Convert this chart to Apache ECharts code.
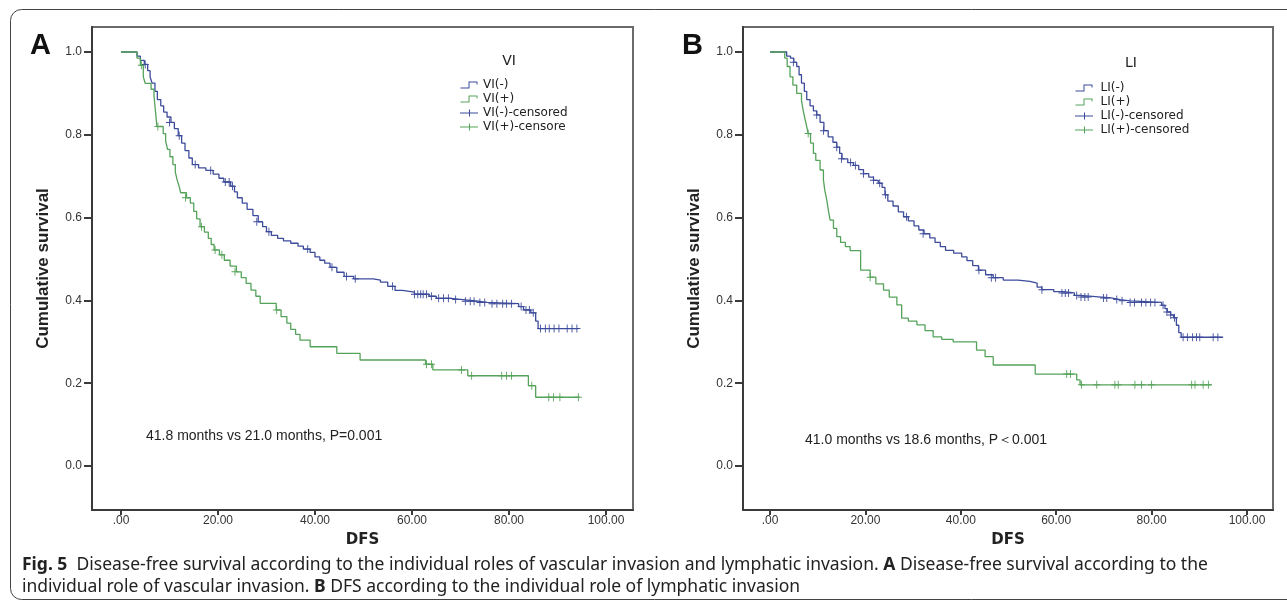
<!DOCTYPE html>
<html><head><meta charset="utf-8">
<script src="https://cdn.jsdelivr.net/npm/echarts@6/dist/echarts.min.js"></script>
<style>html,body{margin:0;padding:0;background:#fff}#c{width:1287px;height:602px}</style>
</head><body><div id="c"></div>
<script>
// ---------- data ----------
const xTicks = [0, 20, 40, 60, 80, 100];
const xTickLabels = ['.00', '20.00', '40.00', '60.00', '80.00', '100.00'];
const yTicks = [0, 0.2, 0.4, 0.6, 0.8, 1.0];
const yTickLabels = ['0.0', '0.2', '0.4', '0.6', '0.8', '1.0'];

// Panel A: vascular invasion (KM steps: [time, survival after event])
const viNegSteps = [[0,1.0],[3.3,0.99],[4.0,0.98],[4.8,0.97],[5.5,0.955],[6.0,0.94],[6.4,0.925],[7.0,0.905],[7.5,0.885],[8.2,0.87],[8.8,0.855],[9.5,0.843],[10.3,0.83],[11.0,0.815],[11.8,0.798],[12.5,0.78],[13.2,0.762],[14.0,0.744],[14.7,0.728],[16.0,0.72],[17.5,0.714],[19.0,0.705],[20.2,0.695],[21.2,0.686],[22.6,0.676],[23.4,0.662],[24.0,0.648],[25.0,0.635],[26.0,0.62],[27.2,0.605],[28.3,0.59],[29.2,0.578],[30.0,0.566],[31.0,0.557],[32.3,0.55],[33.5,0.544],[35.0,0.538],[36.5,0.531],[37.6,0.524],[39.0,0.516],[40.0,0.505],[41.0,0.497],[42.0,0.49],[43.1,0.48],[44.5,0.468],[46.0,0.458],[48.0,0.452],[52.0,0.449],[53.5,0.444],[55.0,0.434],[56.5,0.424],[58.0,0.42],[60.5,0.415],[63.5,0.41],[65.0,0.405],[68.0,0.402],[70.5,0.398],[73.5,0.395],[75.5,0.392],[82.0,0.385],[83.0,0.377],[84.5,0.37],[85.5,0.35],[86.0,0.332],[94.3,0.332]];
const viPosSteps = [[0,1.0],[3.3,0.985],[4.0,0.968],[4.6,0.94],[5.0,0.924],[6.2,0.91],[6.8,0.895],[7.0,0.87],[7.2,0.845],[7.4,0.82],[8.7,0.803],[9.2,0.785],[9.6,0.765],[10.1,0.747],[10.7,0.728],[11.2,0.71],[11.6,0.69],[12.0,0.675],[12.3,0.66],[13.5,0.648],[14.3,0.635],[15.0,0.615],[15.6,0.597],[16.3,0.578],[17.2,0.565],[18.0,0.55],[18.6,0.535],[19.2,0.522],[20.3,0.51],[21.3,0.497],[22.5,0.483],[23.8,0.469],[24.8,0.455],[25.8,0.441],[26.8,0.425],[27.8,0.41],[28.7,0.393],[32.0,0.377],[33.0,0.361],[34.2,0.345],[35.0,0.33],[36.0,0.318],[36.9,0.304],[39.0,0.288],[44.5,0.272],[49.3,0.256],[62.8,0.246],[64.3,0.232],[71.5,0.218],[84.0,0.194],[85.5,0.166],[94.5,0.166]];
const viNegCensored = [[5.0,0.97],[10.0,0.83],[12.0,0.798],[15.3,0.728],[18.5,0.714],[21.5,0.686],[22.3,0.686],[23.0,0.676],[28.0,0.59],[30.5,0.566],[38.5,0.524],[43.5,0.48],[46.5,0.458],[48.3,0.452],[56.0,0.434],[60.5,0.415],[61.2,0.415],[61.8,0.415],[62.3,0.415],[63.0,0.415],[64.0,0.41],[65.5,0.405],[66.5,0.405],[67.5,0.405],[69.0,0.402],[71.0,0.398],[72.0,0.398],[72.8,0.398],[74.0,0.395],[75.0,0.395],[76.5,0.392],[77.5,0.392],[78.7,0.392],[79.5,0.392],[80.5,0.392],[82.5,0.385],[83.5,0.377],[84.2,0.377],[85.0,0.37],[86.5,0.332],[87.5,0.332],[88.3,0.332],[89.3,0.332],[90.3,0.332],[92.0,0.332],[93.0,0.332],[94.0,0.332]];
const viPosCensored = [[4.2,0.968],[7.6,0.82],[13.3,0.648],[16.6,0.578],[19.4,0.522],[20.8,0.51],[23.5,0.469],[32.1,0.377],[63.0,0.246],[64.0,0.246],[70.2,0.232],[72.3,0.218],[78.5,0.218],[79.5,0.218],[80.5,0.218],[84.7,0.194],[88.2,0.166],[89.2,0.166],[90.5,0.166],[94.3,0.166]];

// Panel B: lymphatic invasion
const liNegSteps = [[0,1.0],[3.5,0.99],[4.3,0.985],[5.0,0.975],[5.6,0.965],[6.1,0.945],[6.6,0.925],[7.2,0.905],[7.7,0.885],[8.4,0.87],[9.1,0.858],[9.8,0.848],[10.5,0.83],[11.3,0.81],[12.2,0.795],[13.2,0.782],[14.0,0.77],[14.6,0.755],[15.1,0.742],[16.3,0.733],[17.5,0.726],[18.6,0.716],[19.6,0.706],[20.7,0.698],[21.7,0.69],[22.7,0.683],[23.5,0.673],[24.1,0.655],[24.7,0.64],[25.8,0.628],[26.9,0.614],[28.0,0.602],[29.0,0.592],[30.2,0.58],[31.2,0.57],[32.3,0.561],[33.5,0.551],[34.6,0.54],[35.7,0.53],[36.8,0.521],[38.5,0.514],[40.2,0.505],[41.3,0.496],[42.5,0.484],[43.7,0.473],[45.2,0.462],[46.8,0.455],[48.9,0.449],[52.0,0.446],[54.5,0.442],[56.0,0.432],[57.0,0.426],[59.5,0.421],[61.5,0.418],[63.8,0.412],[65.0,0.408],[69.5,0.406],[71.5,0.402],[73.4,0.399],[75.5,0.395],[82.1,0.388],[82.8,0.38],[83.3,0.372],[84.0,0.365],[84.6,0.358],[85.2,0.34],[85.7,0.322],[86.2,0.311],[95.0,0.311]];
const liPosSteps = [[0,1.0],[3.1,0.985],[3.6,0.965],[4.2,0.94],[4.8,0.92],[5.6,0.9],[6.6,0.884],[6.9,0.862],[7.3,0.84],[7.7,0.82],[8.0,0.803],[8.5,0.78],[9.1,0.755],[9.6,0.738],[10.5,0.715],[11.2,0.691],[11.5,0.665],[11.9,0.643],[12.2,0.62],[12.6,0.594],[13.3,0.574],[14.0,0.554],[14.8,0.54],[15.8,0.53],[16.8,0.52],[19.0,0.473],[21.0,0.456],[22.2,0.44],[23.8,0.425],[25.0,0.408],[26.6,0.389],[27.6,0.357],[29.0,0.35],[30.8,0.341],[32.5,0.327],[34.2,0.312],[36.0,0.306],[38.4,0.30],[43.3,0.28],[45.1,0.264],[46.8,0.244],[55.6,0.222],[64.3,0.208],[65.0,0.196],[92.6,0.196]];
const liNegCensored = [[4.9,0.975],[9.8,0.848],[11.2,0.81],[14.0,0.77],[15.0,0.742],[16.9,0.733],[17.9,0.726],[19.6,0.706],[21.7,0.69],[23.0,0.683],[24.2,0.655],[28.6,0.602],[32.1,0.561],[43.8,0.473],[46.4,0.455],[47.3,0.455],[57.0,0.426],[61.2,0.418],[61.9,0.418],[62.6,0.418],[64.3,0.412],[65.2,0.408],[66.0,0.408],[66.7,0.408],[69.9,0.406],[70.6,0.406],[72.7,0.402],[73.8,0.399],[75.5,0.395],[76.4,0.395],[77.9,0.395],[78.8,0.395],[79.8,0.395],[80.7,0.395],[82.4,0.388],[83.2,0.372],[84.0,0.365],[84.8,0.358],[86.6,0.311],[87.5,0.311],[88.6,0.311],[89.4,0.311],[90.1,0.311],[92.9,0.311],[93.9,0.311]];
const liPosCensored = [[8.0,0.803],[21.0,0.456],[62.2,0.222],[63.0,0.222],[65.3,0.196],[68.5,0.196],[72.3,0.196],[73.0,0.196],[76.5,0.196],[77.9,0.196],[80.0,0.196],[88.4,0.196],[89.1,0.196],[90.8,0.196],[91.9,0.196]];

const panelLetters = ['A', 'B'];
const legendTitles = ['VI', 'LI'];
const seriesNamesA = ['VI(-)', 'VI(+)', 'VI(-)-censored', 'VI(+)-censored'];
const seriesNamesB = ['LI(-)', 'LI(+)', 'LI(-)-censored', 'LI(+)-censored'];
const annotations = ['41.8 months vs 21.0 months, P=0.001', '41.0 months vs 18.6 months, P\uFF1C0.001'];
const xAxisTitle = 'DFS';
const yAxisTitle = 'Cumulative survival';
const captionLine1 = ['Fig. 5', '  Disease-free survival according to the individual roles of vascular invasion and lymphatic invasion. ', 'A', ' Disease-free survival according to the'];
const captionLine2 = ['individual role of vascular invasion. ', 'B', ' DFS according to the individual role of lymphatic invasion'];

// ---------- styling ----------
const BLUE = '#3d4b9b';
const GREEN = '#55a35a';
const stepIcon = 'path://M0,6H8V0H17V3H16V1H9V7H0Z';
const plusIcon = 'path://M0,3H18V4H0Z M9,0H10V7H9Z';
const censorSymbol = 'path://M0,3.5H8V4.5H0Z M3.5,0H4.5V8H3.5Z';
const txt = '#222';

function xAxisCfg(gi, min, max) {
  return {
    gridIndex: gi, type: 'value', min: min, max: max,
    name: xAxisTitle, nameLocation: 'middle', nameGap: 23,
    nameTextStyle: { fontFamily: 'DejaVu Sans', fontWeight: 'bold', fontSize: 15, color: txt },
    axisLine: { show: true, onZero: false, lineStyle: { color: '#3a3a3a', width: 2 } },
    axisTick: { show: true, customValues: xTicks, length: 5, lineStyle: { color: '#3a3a3a', width: 2 } },
    axisLabel: { customValues: xTicks, margin: 5, fontFamily: 'Liberation Sans', fontSize: 12, color: '#333',
      formatter: v => xTickLabels[xTicks.indexOf(Math.round(v))] },
    splitLine: { show: false }
  };
}
function yAxisCfg(gi) {
  return {
    gridIndex: gi, type: 'value', min: -0.1063, max: 1.0604,
    name: yAxisTitle, nameLocation: 'middle', nameGap: 40, nameRotate: 90,
    nameTextStyle: { fontFamily: 'Liberation Sans', fontWeight: 'bold', fontSize: 17, color: txt },
    axisLine: { show: true, onZero: false, lineStyle: { color: '#3a3a3a', width: 2 } },
    axisTick: { show: true, customValues: yTicks, length: 8, lineStyle: { color: '#3a3a3a', width: 2 } },
    axisLabel: { customValues: yTicks, margin: 10, fontFamily: 'Liberation Sans', fontSize: 12, color: '#333',
      formatter: v => yTickLabels[yTicks.indexOf(Math.round(v * 10) / 10)] },
    splitLine: { show: false }
  };
}
function kmLine(name, data, color, gi) {
  return { name, type: 'line', step: 'end', data, xAxisIndex: gi, yAxisIndex: gi, symbol: 'none',
    lineStyle: { color, width: 1.3 }, itemStyle: { color }, z: 2, animation: false, silent: true };
}
function censor(name, data, color, gi) {
  return { name, type: 'scatter', data, xAxisIndex: gi, yAxisIndex: gi, symbol: censorSymbol,
    symbolSize: [7, 8], itemStyle: { color, opacity: 1 }, z: 3, animation: false, silent: true };
}
function legendCfg(names, left, top, iconW) {
  return {
    orient: 'vertical', left, top, itemWidth: iconW, itemHeight: 7, itemGap: 0, selectedMode: false,
    itemStyle: { borderWidth: 0 },
    data: [
      { name: names[0], icon: stepIcon }, { name: names[1], icon: stepIcon },
      { name: names[2], icon: plusIcon }, { name: names[3], icon: plusIcon }
    ],
    textStyle: { fontFamily: 'DejaVu Sans', fontSize: 12, color: txt, lineHeight: 14,
      width: 90, overflow: 'truncate', ellipsis: '' }
  };
}

const chart = echarts.init(document.getElementById('c'), null, { renderer: 'canvas' });
chart.setOption({
  animation: false,
  backgroundColor: '#fff',
  grid: [
    { left: 92, top: 27, width: 541, height: 483, show: true, borderColor: '#6a6a6a', borderWidth: 2, containLabel: false },
    { left: 743, top: 27, width: 530, height: 483, show: true, borderColor: '#6a6a6a', borderWidth: 2, containLabel: false }
  ],
  xAxis: [xAxisCfg(0, -5.98, 105.57), xAxisCfg(1, -5.66, 105.45)],
  yAxis: [yAxisCfg(0), yAxisCfg(1)],
  legend: [legendCfg(seriesNamesA, 455, 73, 18), legendCfg(seriesNamesB, 1070, 76, 23)],
  series: [
    kmLine(seriesNamesA[0], viNegSteps, BLUE, 0),
    kmLine(seriesNamesA[1], viPosSteps, GREEN, 0),
    censor(seriesNamesA[2], viNegCensored, BLUE, 0),
    censor(seriesNamesA[3], viPosCensored, GREEN, 0),
    kmLine(seriesNamesB[0], liNegSteps, BLUE, 1),
    kmLine(seriesNamesB[1], liPosSteps, GREEN, 1),
    censor(seriesNamesB[2], liNegCensored, BLUE, 1),
    censor(seriesNamesB[3], liPosCensored, GREEN, 1)
  ],
  graphic: [
    { type: 'rect', shape: { x: 10.5, y: 9.5, width: 1300, height: 590, r: 11 }, style: { fill: 'none', stroke: '#444', lineWidth: 1 }, silent: true },
    { type: 'text', left: 30, top: 31, style: { text: panelLetters[0], font: 'bold 29px "Liberation Sans"', fill: '#111' } },
    { type: 'text', left: 682, top: 31, style: { text: panelLetters[1], font: 'bold 29px "Liberation Sans"', fill: '#111' } },
    { type: 'text', x: 509, y: 61, style: { text: legendTitles[0], font: '14px "DejaVu Sans"', fill: txt, align: 'center', verticalAlign: 'middle' } },
    { type: 'text', x: 1131, y: 63, style: { text: legendTitles[1], font: '14px "DejaVu Sans"', fill: txt, align: 'center', verticalAlign: 'middle' } },
    { type: 'text', x: 146, y: 436, style: { text: annotations[0], font: '14px "Liberation Sans"', fill: txt, align: 'left', verticalAlign: 'middle' } },
    { type: 'text', x: 805, y: 440, style: { text: annotations[1], font: '14px "Liberation Sans"', fill: txt, align: 'left', verticalAlign: 'middle' } },
    { type: 'text', x: 22, y: 554, style: {
        text: '{b|' + captionLine1[0] + '}' + captionLine1[1] + '{b|' + captionLine1[2] + '}' + captionLine1[3] + '\n' +
              captionLine2[0] + '{b|' + captionLine2[1] + '}' + captionLine2[2],
        font: '17.5px "Noto Sans"', fill: txt, lineHeight: 22, align: 'left', verticalAlign: 'top',
        rich: { b: { font: 'bold 17.5px "Noto Sans"', fill: txt, lineHeight: 22 } } } }
  ]
});
</script></body></html>
